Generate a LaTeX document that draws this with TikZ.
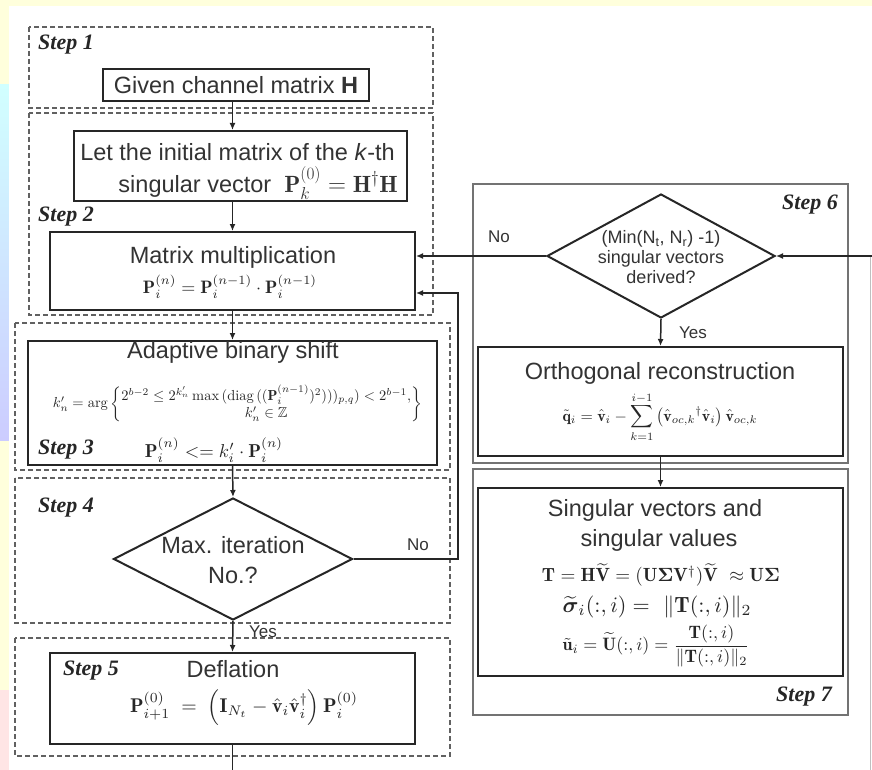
\documentclass[tikz,border=0pt]{standalone}
\usepackage{fontspec}
\usepackage{amsmath,amssymb}
\usepackage{graphicx}
\usetikzlibrary{shapes.geometric,arrows.meta,calc}
\newfontfamily\arialf{Liberation Sans}
\newfontfamily\timesf{Liberation Serif}
\definecolor{bgyellow}{HTML}{FFFFDC}
\definecolor{inkc}{HTML}{262626}
\definecolor{txtc}{HTML}{333333}
\tikzset{
  box/.style={draw=inkc, line width=2pt, inner sep=0pt},
  dia/.style={diamond, draw=inkc, line width=2pt, inner sep=0pt},
  stepframe/.style={draw=black!62, line width=1.2pt, dash pattern=on 5pt off 3pt},
  solidframe/.style={draw=black!55, line width=1.3pt},
  lbl/.style={font={\arialf\fontsize{23.5}{30}\selectfont}, text=txtc, inner sep=0pt, align=center},
  smalllbl/.style={font={\arialf\fontsize{18}{20}\selectfont}, text=txtc, inner sep=0pt, align=center},
  yn/.style={font={\arialf\fontsize{17}{19}\selectfont}, text=txtc, inner sep=0pt},
  steplbl/.style={font={\timesf\bfseries\itshape\fontsize{22}{24}\selectfont}, text=inkc, inner sep=0pt},
  fm/.style={text=inkc, inner sep=0pt},
  conn/.style={draw=inkc, line width=1.5pt},
  arr/.style={conn, -{Latex[length=7pt,width=6pt]}},
}
\begin{document}
\begin{tikzpicture}[x=1pt,y=-1pt]
\useasboundingbox (0,0) rectangle (872,770);
% background
\fill[bgyellow] (0,0) rectangle (872,770);
\shade[top color=cyan!18, bottom color=blue!20] (0,85) rectangle (9,440);
\fill[red!10] (0,690) rectangle (9,770);
\fill[white] (9,6) rectangle (872,770);
\draw[black!25, line width=0.8pt] (870.5,256) -- (870.5,770);

% step frames
\draw[stepframe] (29,27) rectangle (433,108);
\draw[stepframe] (29,113) rectangle (433,315);
\draw[stepframe] (15,323) rectangle (450,470);
\draw[stepframe] (15,478) rectangle (450,623);
\draw[stepframe] (15,638) rectangle (450,756);
\draw[solidframe] (473,184) rectangle (848,463);
\draw[solidframe] (473,469) rectangle (848,715);

% step labels
\node[steplbl, anchor=west] (s1) at (38,45) {Step 1};
\node[steplbl, anchor=west] (s2) at (38,217) {Step 2};
\node[steplbl, anchor=west] (s3) at (38,450) {Step 3};
\node[steplbl, anchor=west] (s4) at (38,508) {Step 4};
\node[steplbl, anchor=west] (s5) at (63,671) {Step 5};
\node[steplbl, anchor=east] (s6) at (838,205) {Step 6};
\node[steplbl, anchor=east] (s7) at (832,697) {Step 7};

% left column
\node[box, minimum width=266pt, minimum height=32pt] (given) at (236,85) {};
\node[lbl] (givent) at (given) {Given channel matrix {\bfseries H}};

\node[box, minimum width=333pt, minimum height=70pt] (let) at (240.5,166) {};
\node[lbl] (lett1) at (237.5,152) {Let the initial matrix of the \textit{k}-th};
\node[lbl, anchor=east] (lett2) at (398,183) {singular vector\ \ $\mathbf{P}_k^{(0)} = \mathbf{H}^{\dagger}\mathbf{H}$};

\node[box, minimum width=365pt, minimum height=78pt] (mm) at (232.5,271) {};
\node[lbl] (mmt) at (233,257) {Matrix multiplication};
\node[fm] (mmf) at (230,287) {\resizebox{174pt}{!}{$\mathbf{P}_i^{(n)} = \mathbf{P}_i^{(n-1)}\cdot\mathbf{P}_i^{(n-1)}$}};

\node[box, minimum width=409pt, minimum height=124pt] (abs) at (232.5,403) {};
\node[lbl] (abst) at (233,352) {Adaptive binary shift};
\node[fm] (absf) at (237.5,404) {\resizebox{369pt}{!}{$k'_n = \arg\left\{\begin{matrix} 2^{b-2} \le 2^{k'_n}\max\,(\mathrm{diag}\,((\mathbf{P}_i^{(n-1)})^2)))_{p,q}) < 2^{b-1}, \\ k'_n \in \mathbb{Z} \end{matrix}\right\}$}};
\node[fm] (absg) at (214,450) {\resizebox{138pt}{!}{$\mathbf{P}_i^{(n)} <= k'_i\cdot\mathbf{P}_i^{(n)}$}};

\node[dia, minimum width=239pt, minimum height=122pt] (d4) at (233,559) {};
\node[lbl] (d4t) at (233,560) {Max. iteration\\No.?};

\node[box, minimum width=365pt, minimum height=91pt] (defl) at (232.5,698.5) {};
\node[lbl] (deflt) at (233,669) {Deflation};
\node[fm] (deflf) at (244,708) {\resizebox{228pt}{!}{$\mathbf{P}_{i+1}^{(0)} \;=\; \left(\mathbf{I}_{N_t} - \hat{\mathbf{v}}_i\hat{\mathbf{v}}_i^{\dagger}\right)\mathbf{P}_i^{(0)}$}};

% right column
\node[dia, minimum width=228pt, minimum height=124pt] (d6) at (661,256) {};
\node[smalllbl] (d6t) at (661,257) {(Min(N\textsubscript{t}, N\textsubscript{r}) -1)\\singular vectors\\derived?};

\node[box, minimum width=365pt, minimum height=109pt] (orth) at (660.5,401.5) {};
\node[lbl] (ortht) at (660,373) {Orthogonal reconstruction};
\node[fm] (orthf) at (660,417) {\resizebox{195pt}{!}{$\tilde{\mathbf{q}}_i = \hat{\mathbf{v}}_i - \displaystyle\sum_{k=1}^{i-1}\left(\hat{\mathbf{v}}_{oc,k}{}^{\dagger}\hat{\mathbf{v}}_i\right)\hat{\mathbf{v}}_{oc,k}$}};

\node[box, minimum width=365pt, minimum height=188pt] (sing) at (660.5,582) {};
\node[lbl] (singt1) at (655,510) {Singular vectors and};
\node[lbl] (singt2) at (659,540) {singular values};
\node[fm] (singf1) at (661,575) {\resizebox{238pt}{!}{$\mathbf{T} = \mathbf{H}\widetilde{\mathbf{V}} = (\mathbf{U}\boldsymbol{\Sigma}\mathbf{V}^{\dagger})\widetilde{\mathbf{V}}\ \approx \mathbf{U}\boldsymbol{\Sigma}$}};
\node[fm] (singf2) at (657,607) {\resizebox{189pt}{!}{$\widetilde{\boldsymbol{\sigma}}_i(:,i) = \ \|\mathbf{T}(:,i)\|_2$}};
\node[fm] (singf3) at (656,646) {\resizebox{187pt}{!}{$\tilde{\mathbf{u}}_i = \widetilde{\mathbf{U}}(:,i) = \dfrac{\mathbf{T}(:,i)}{\|\mathbf{T}(:,i)\|_2}$}};

% yes / no labels
\node[yn] (no4) at (418,545) {No};
\node[yn] (yes4) at (263,632) {Yes};
\node[yn] (no6) at (499,237) {No};
\node[yn] (yes6) at (693,333) {Yes};

% connectors
\coordinate (bot) at (232.5,770);
\coordinate (loopc) at (458,293);
\coordinate (rin) at (872,256);
\draw[arr] (given.south -| mm.north) -- (let.north -| mm.north);
\draw[arr] (let.south -| mm.north) -- (mm.north);
\draw[arr] (mm.south) -- (abs.north);
\draw[arr] (abs.south) -- (d4.north);
\draw[arr] (d4.south) -- (defl.north);
\draw[conn] (defl.south) -- (bot);
\draw[arr] (d4.east) -| (loopc) -- (loopc -| mm.east);
\draw[arr] (d6.west) -- (d6.west -| mm.east);
\draw[arr] (rin) -- (d6.east);
\draw[arr] (d6.south) -- (orth.north);
\draw[arr] (orth.south) -- (sing.north);
\end{tikzpicture}
\end{document}
